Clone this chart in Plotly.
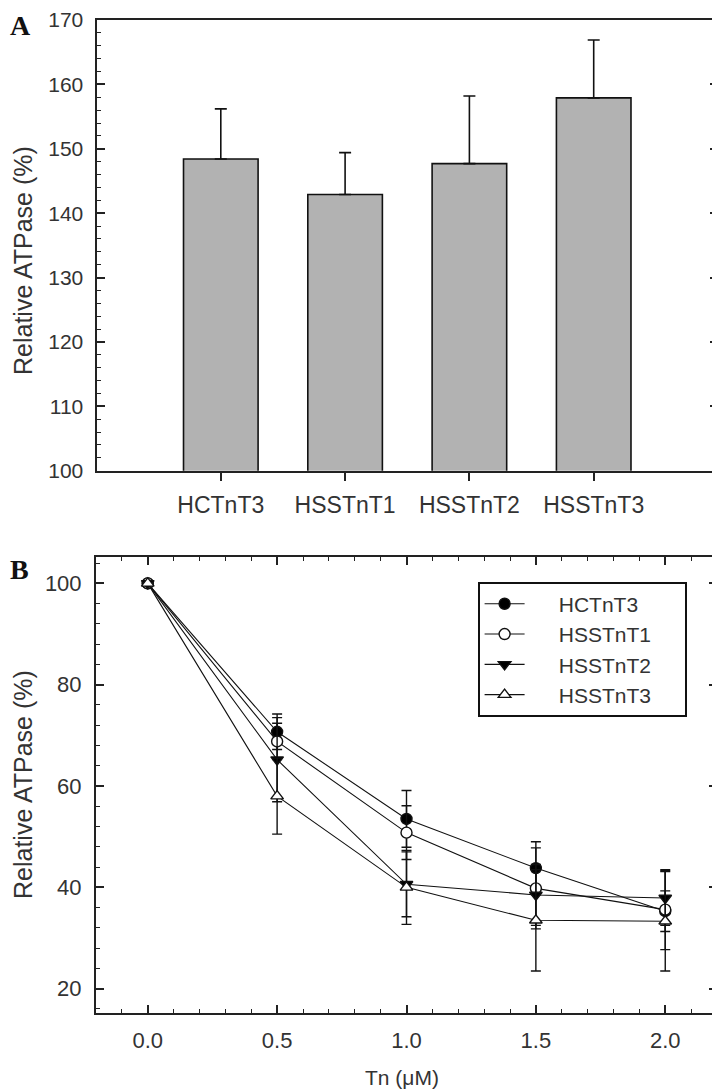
import plotly.graph_objects as go

# ---------------- Data ----------------
# Panel A
categories = ["HCTnT3", "HSSTnT1", "HSSTnT2", "HSSTnT3"]
atpase_a = [148.4, 142.9, 147.7, 157.9]
err_a = [7.8, 6.5, 10.5, 9.0]

# Panel B
tn_um = [0.0, 0.5, 1.0, 1.5, 2.0]
series_names = ["HCTnT3", "HSSTnT1", "HSSTnT2", "HSSTnT3"]
hctnt3 = [100, 70.7, 53.5, 43.8, 35.3]
hctnt3_err = [0, 3.5, 5.6, 5.2, 4.0]
hsstnt1 = [100, 68.8, 50.8, 39.8, 35.6]
hsstnt1_err = [0, 3.6, 5.3, 8.0, 7.9]
hsstnt2 = [100, 65.2, 40.6, 38.5, 37.9]
hsstnt2_err = [0, 8.3, 6.4, 6.0, 5.4]
hsstnt3 = [100, 58.0, 40.0, 33.5, 33.3]
hsstnt3_err = [0, 7.5, 7.3, 10.0, 9.8]

# ---------------- Styles ----------------
FONT = "Liberation Sans, Arial, sans-serif"
SERIF = "Liberation Serif, Times New Roman, serif"
AX = "#222222"
TXT = "#333333"
OFF = 8               # page body margin in the browser
W, H = 712, 1084
NB = "\u00a0"

def px_x(v):
    return (v - OFF) / W

def px_y(v):
    return 1 - (v - OFF) / H

fig = go.Figure()

# Panel A bars
fig.add_trace(go.Bar(
    x=categories, y=atpase_a,
    marker=dict(color="#b2b2b2", line=dict(color="#111111", width=1.6)),
    width=0.6,
    error_y=dict(type="data", symmetric=False, array=err_a,
                 arrayminus=[0] * len(err_a), color="#111111",
                 thickness=1.6, width=6),
    xaxis="x", yaxis="y", showlegend=False,
))

# Panel B lines
b_series = [
    (hctnt3, hctnt3_err, "circle", "black"),
    (hsstnt1, hsstnt1_err, "circle", "white"),
    (hsstnt2, hsstnt2_err, "triangle-down", "black"),
    (hsstnt3, hsstnt3_err, "triangle-up", "white"),
]
for name, (vals, errs, sym, fill) in zip(series_names, b_series):
    fig.add_trace(go.Scatter(
        x=tn_um, y=vals, mode="lines+markers",
        name=NB * 5 + name + NB * 5,
        line=dict(color="#111111", width=1.1),
        marker=dict(symbol=sym, size=11, color=fill,
                    line=dict(color="#111111", width=1.4)),
        error_y=dict(type="data", array=errs, color="#111111",
                     thickness=1.4, width=5),
        xaxis="x2", yaxis="y2",
    ))

axis_common = dict(
    showgrid=False, zeroline=False, showline=True, linecolor=AX,
    linewidth=2, tickcolor=AX, automargin=False, ticklabeloverflow="allow",
)
tf22 = dict(family=FONT, size=22, color=TXT)

fig.update_layout(
    width=W, height=H,
    margin=dict(l=0, r=0, t=0, b=0, pad=0, autoexpand=False),
    paper_bgcolor="white", plot_bgcolor="white",
    font=dict(family=FONT, color=TXT),
    bargap=0.4,
    xaxis=dict(
        **axis_common,
        domain=[px_x(96.5), px_x(718)], anchor="y",
        type="category", range=[-1, 4],
        ticks="outside", ticklen=8, tickwidth=1.6, mirror=True,
        tickfont=dict(family=FONT, size=23, color=TXT),
        ticklabelstandoff=5,
    ),
    yaxis=dict(
        **axis_common,
        domain=[px_y(470.7), px_y(20)], anchor="x",
        range=[100, 170], tick0=100, dtick=10,
        ticks="inside", ticklen=8, tickwidth=1.6, mirror="ticks",
        minor=dict(ticks="inside", ticklen=4, dtick=2, tickcolor=AX, tickwidth=1.3),
        tickfont=dict(family=FONT, size=21, color=TXT), ticklabelstandoff=7,
    ),
    xaxis2=dict(
        **axis_common,
        domain=[px_x(96), px_x(717)], anchor="y2",
        range=[-0.2, 2.2], tick0=0, dtick=0.5, tickformat=".1f",
        ticks="inside", ticklen=8, tickwidth=1.6, mirror="ticks",
        minor=dict(ticks="inside", ticklen=4, dtick=0.1, tick0=0, tickcolor=AX, tickwidth=1.3),
        tickfont=tf22, ticklabelstandoff=7,
    ),
    yaxis2=dict(
        **axis_common,
        domain=[px_y(1013), px_y(557)], anchor="x2",
        range=[15.2, 105.2], tick0=20, dtick=20,
        ticks="inside", ticklen=8, tickwidth=1.6, mirror="ticks",
        minor=dict(ticks="inside", ticklen=4, dtick=4, tick0=0, tickcolor=AX, tickwidth=1.3),
        tickfont=tf22, ticklabelstandoff=8,
    ),
    legend=dict(
        x=px_x(478), y=px_y(582), xanchor="left", yanchor="top",
        bgcolor="white", bordercolor="#111111", borderwidth=1.6,
        font=dict(family=FONT, size=21, color=TXT),
        tracegroupgap=0, itemwidth=40,
    ),
    showlegend=True,
)

annotations = [
    dict(text="<b>A</b>", x=px_x(8), y=px_y(8), xref="paper", yref="paper",
         xanchor="left", yanchor="top", showarrow=False,
         font=dict(family=SERIF, size=28, color="#111111")),
    dict(text="<b>B</b>", x=px_x(8), y=px_y(552), xref="paper", yref="paper",
         xanchor="left", yanchor="top", showarrow=False,
         font=dict(family=SERIF, size=28, color="#111111")),
    dict(text="Relative ATPase (%)", x=px_x(23), y=px_y(261), xref="paper", yref="paper",
         xanchor="center", yanchor="middle", textangle=-90, showarrow=False,
         font=dict(family=FONT, size=25, color=TXT)),
    dict(text="Relative ATPase (%)", x=px_x(23), y=px_y(785), xref="paper", yref="paper",
         xanchor="center", yanchor="middle", textangle=-90, showarrow=False,
         font=dict(family=FONT, size=25, color=TXT)),
    dict(text="Tn (\u03bcM)", x=px_x(402), y=px_y(1077), xref="paper", yref="paper",
         xanchor="center", yanchor="middle", showarrow=False,
         font=dict(family=FONT, size=21, color=TXT)),
]
fig.update_layout(annotations=annotations)

fig.write_html("out.html")
